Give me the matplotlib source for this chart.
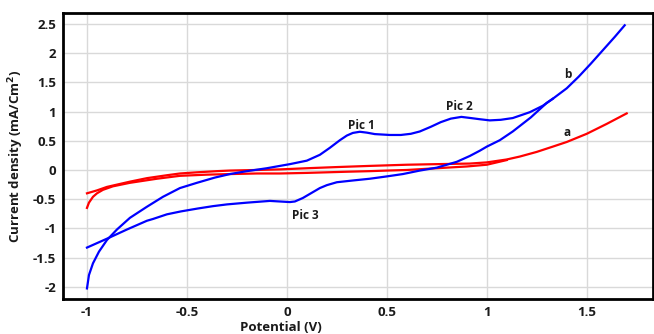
import numpy as np
import matplotlib.pyplot as plt

# Courbe b (bleue) - balayage aller
b_up_x = [-1.00, -0.99, -0.97, -0.94, -0.90, -0.85, -0.785, -0.70, -0.62, -0.535,
          -0.45, -0.36, -0.285, -0.20, -0.10, -0.035, 0.015, 0.10, 0.165, 0.215,
          0.265, 0.30, 0.33, 0.365, 0.40, 0.44, 0.515, 0.57, 0.62, 0.665,
          0.72, 0.77, 0.82, 0.873, 0.92, 0.965, 1.015, 1.07, 1.13, 1.215,
          1.28, 1.33, 1.40, 1.46, 1.52, 1.58, 1.64, 1.69]
b_up_y = [-2.03, -1.80, -1.60, -1.40, -1.20, -1.02, -0.82, -0.63, -0.46, -0.31,
          -0.22, -0.13, -0.07, -0.02, 0.03, 0.07, 0.10, 0.16, 0.26, 0.38,
          0.51, 0.59, 0.635, 0.655, 0.64, 0.615, 0.60, 0.60, 0.62, 0.66,
          0.74, 0.82, 0.88, 0.91, 0.89, 0.87, 0.85, 0.86, 0.89, 0.99,
          1.10, 1.22, 1.40, 1.60, 1.82, 2.05, 2.28, 2.48]

# Courbe b - balayage retour
b_down_x = [1.33, 1.30, 1.22, 1.13, 1.065, 1.00, 0.965, 0.915, 0.85, 0.75,
            0.665, 0.58, 0.50, 0.415, 0.33, 0.25, 0.20, 0.165, 0.12, 0.08,
            0.04, 0.015, -0.035, -0.085, -0.20, -0.30, -0.37, -0.445, -0.53, -0.60,
            -0.67, -0.70, -0.80, -0.895, -1.00]
b_down_y = [1.22, 1.15, 0.90, 0.66, 0.51, 0.40, 0.33, 0.24, 0.14, 0.04,
            -0.01, -0.07, -0.11, -0.15, -0.18, -0.21, -0.26, -0.31, -0.40, -0.48,
            -0.54, -0.55, -0.54, -0.53, -0.56, -0.59, -0.62, -0.66, -0.71, -0.76,
            -0.84, -0.87, -1.02, -1.17, -1.33]

# Courbe a (rouge)
a_up_x = [-1.00, -0.95, -0.90, -0.785, -0.70, -0.60, -0.535, -0.45, -0.35, -0.285,
          -0.15, -0.035, 0.10, 0.25, 0.415, 0.60, 0.75, 0.915, 1.00, 1.10,
          1.165, 1.25, 1.33, 1.40, 1.50, 1.60, 1.70]
a_up_y = [-0.40, -0.35, -0.29, -0.20, -0.14, -0.09, -0.06, -0.04, -0.02, -0.01,
          0.00, 0.01, 0.03, 0.05, 0.07, 0.09, 0.10, 0.11, 0.13, 0.18,
          0.23, 0.31, 0.40, 0.48, 0.62, 0.79, 0.97]

a_down_x = [1.10, 1.00, 0.90, 0.75, 0.60, 0.50, 0.415, 0.30, 0.10, -0.035,
            -0.15, -0.285, -0.40, -0.535, -0.65, -0.785, -0.87, -0.92, -0.95, -0.97,
            -0.99, -1.00]
a_down_y = [0.17, 0.09, 0.06, 0.03, 0.00, -0.01, -0.02, -0.03, -0.05, -0.06,
            -0.06, -0.07, -0.08, -0.10, -0.15, -0.22, -0.28, -0.34, -0.40, -0.46,
            -0.56, -0.65]

x_ticks = [-1, -0.5, 0, 0.5, 1, 1.5]
x_tick_labels = ['-1', '-0.5', '0', '0.5', '1', '1.5']
y_ticks = [-2, -1.5, -1, -0.5, 0, 0.5, 1, 1.5, 2, 2.5]
y_tick_labels = ['-2', '-1.5', '-1', '-0.5', '0', '0.5', '1', '1.5', '2', '2.5']

labels = ['Pic 1', 'Pic 2', 'Pic 3', 'b', 'a']
label_x = [0.375, 0.865, 0.09, 1.405, 1.40]
label_y = [0.77, 1.08, -0.78, 1.63, 0.65]


def main():
    plt.rcParams['font.family'] = ['Open Sans', 'DejaVu Sans']

    fig = plt.figure(figsize=(6.54, 3.34), dpi=100)
    ax = fig.add_axes([0.0963, 0.105, 0.9017, 0.856])

    ax.plot(a_up_x, a_up_y, color='#ff0000', lw=1.6, zorder=3)
    ax.plot(a_down_x, a_down_y, color='#ff0000', lw=1.6, zorder=3)
    ax.plot(b_up_x, b_up_y, color='#0000ff', lw=1.6, zorder=3)
    ax.plot(b_down_x, b_down_y, color='#0000ff', lw=1.6, zorder=3)

    for txt, tx, ty in zip(labels, label_x, label_y):
        ax.text(tx, ty, txt, fontsize=8.5, fontweight='bold', ha='center',
                va='center', color='#1a1a1a')

    ax.set_xlim(-1.12, 1.83)
    ax.set_ylim(-2.21, 2.69)
    ax.set_xticks(x_ticks)
    ax.set_xticklabels(x_tick_labels, fontweight='bold')
    ax.set_yticks(y_ticks)
    ax.set_yticklabels(y_tick_labels, fontweight='bold')
    ax.tick_params(length=0, labelsize=9.5, pad=5, labelcolor='#1a1a1a')
    ax.grid(True, color='#d9d9d9', lw=1)
    ax.set_axisbelow(True)

    for s in ax.spines.values():
        s.set_linewidth(2)
        s.set_color('black')

    ax.set_ylabel('Current density (mA/Cm$^\\mathbf{2}$)', fontsize=9.5,
                  fontweight='bold', labelpad=5, color='#1a1a1a')
    fig.text(0.43, 0.0, 'Potential (V)', fontsize=9.5, fontweight='bold',
             ha='center', va='bottom', color='#1a1a1a')

    fig.savefig('out.png', dpi=100)


if __name__ == "__main__":
    main()
